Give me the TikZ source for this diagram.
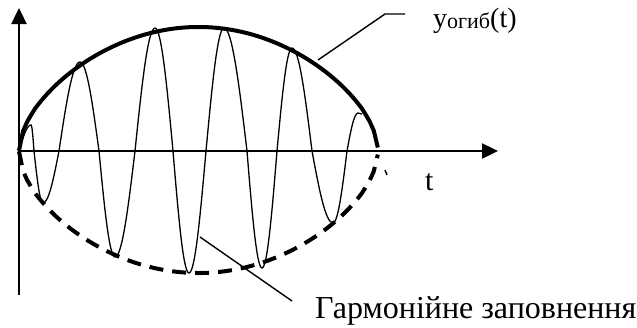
\documentclass[tikz,border=0pt]{standalone}
\usepackage{fontspec}
\setmainfont{Liberation Serif}
\usetikzlibrary{arrows.meta}

\begin{document}
\begin{tikzpicture}[x=1pt,y=-1pt]
  \tikzstyle{ax}=[line width=2.4pt,-{Triangle[length=16pt,width=15pt]}]
  \tikzstyle{env}=[line width=4pt]
  \tikzstyle{envd}=[line width=4pt,dash pattern=on 14pt off 9pt]
  \tikzstyle{wave}=[line width=1.3pt]
  \tikzstyle{lead}=[line width=1.4pt]
  \tikzstyle{lbl}=[inner sep=0pt,anchor=base west]
  \useasboundingbox (0,0) rectangle (637,327);

  % -- axes --
  \coordinate (o) at (19,151);
  \coordinate (ybot) at (19,295);
  \coordinate (ytop) at (19,8);
  \coordinate (xend) at (498,151);
  \draw[ax] (ybot) -- (ytop);
  \draw[ax] (o) -- (xend);
  \node[lbl,font=\fontsize{30}{32}\selectfont] (tlbl) at (425,190) {t};

  % -- envelope (solid above, dashed below) --
  \draw[env] plot[domain=0:1,samples=90]
    ({19+359*\x},{151-124*pow(abs(sin(180*\x))+0.00001,0.55)});
  \draw[envd] plot[domain=0:1,samples=90]
    ({19+359*\x},{151+122*pow(abs(sin(180*\x))+0.00001,0.545)});
  \draw[lead] (385,170) -- (387,175);

  % -- harmonic filling --
  \draw[wave] (o) sin (31,125) cos (34,151) sin (43,203) cos (59,151)
    sin (80,62) cos (99,151) sin (115,257) cos (135,151)
    sin (155,28) cos (173,151) sin (189,273) cos (206,151)
    sin (224,28) cos (247,151) sin (262,268) cos (277,151)
    sin (292,48) cos (312,151) sin (333,223) cos (347,151)
    sin (358,113) cos (362,114);

  % -- labels with leaders --
  \node[lbl,font=\fontsize{28}{30}\selectfont] (ylbl) at (433,27)
    {y\raisebox{-1.5pt}{\fontsize{22}{24}\selectfont огиб}(t)};
  \coordinate (envpt) at (318,60);
  \coordinate (knee) at (385,14);
  \coordinate (kend) at (405,14);
  \draw[lead] (envpt) -- (knee) -- (kend);

  \node[lbl,font=\fontsize{32}{34}\selectfont] (glbl) at (315,318)
    {Гармонійне заповнення};
  \coordinate (wavept) at (200,237);
  \coordinate (gend) at (292,301);
  \draw[lead] (wavept) -- (gend);
\end{tikzpicture}
\end{document}
